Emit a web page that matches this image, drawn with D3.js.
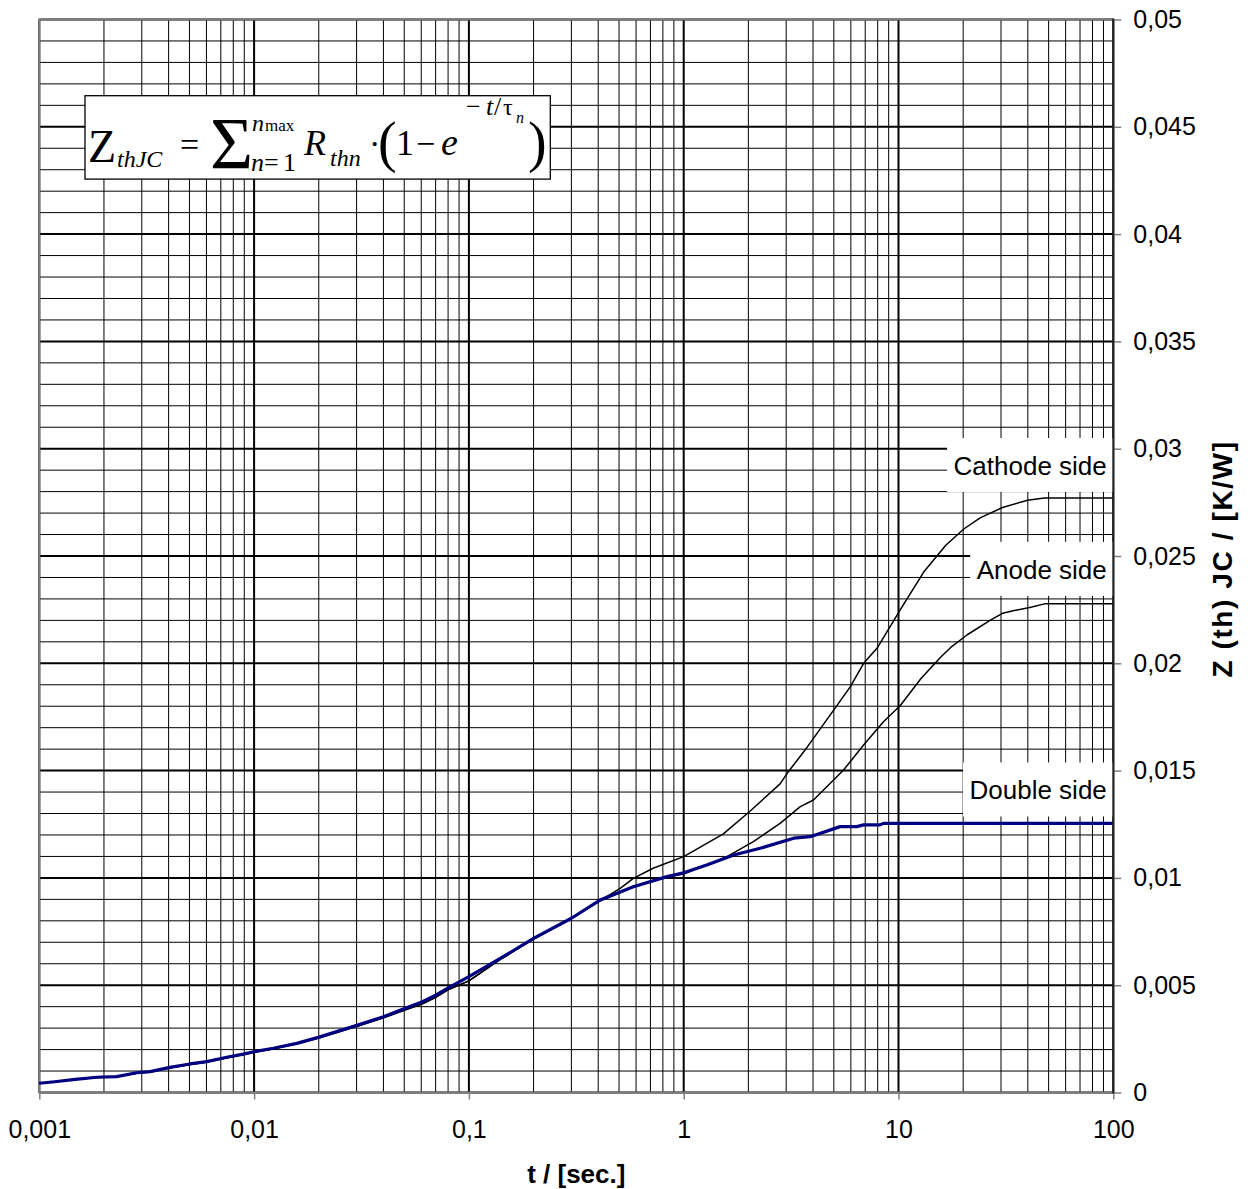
<!DOCTYPE html>
<html>
<head>
<meta charset="utf-8">
<script src="https://cdn.jsdelivr.net/npm/d3@7"></script>
<style>
  html, body { margin: 0; padding: 0; background: #fff; }
  svg { display: block; }
</style>
</head>
<body>
<svg id="chart" width="1248" height="1189"></svg>
<script>
// ---------------- DATA ----------------
const xTickVals = [0.001, 0.01, 0.1, 1, 10, 100];
const xTickLabels = ["0,001", "0,01", "0,1", "1", "10", "100"];
const yTickVals = [0, 0.005, 0.01, 0.015, 0.02, 0.025, 0.03, 0.035, 0.04, 0.045, 0.05];
const yTickLabels = ["0", "0,005", "0,01", "0,015", "0,02", "0,025", "0,03", "0,035", "0,04", "0,045", "0,05"];
const seriesNames = ["Cathode side", "Anode side", "Double side"];

const doubleT = [0.001, 0.00118, 0.00147, 0.00185, 0.00229, 0.00284, 0.00328, 0.00406, 0.00503, 0.00602, 0.00746, 0.00891, 0.01, 0.0123, 0.0158, 0.0199, 0.0306, 0.04, 0.0495, 0.0608, 0.07, 0.0798, 0.1, 0.14, 0.2, 0.3, 0.408, 0.506, 0.583, 0.836, 1, 1.28, 1.71, 2.27, 3.25, 3.88, 5.35, 6.4, 6.88, 8.2, 8.5, 100];
const doubleZ = [0.00043, 0.0005, 0.00061, 0.00071, 0.00074, 0.00092, 0.00097, 0.00117, 0.00133, 0.00144, 0.00164, 0.00179, 0.0019, 0.00206, 0.00229, 0.00257, 0.00315, 0.00353, 0.00389, 0.00423, 0.00454, 0.00486, 0.0054, 0.00625, 0.00718, 0.00812, 0.00897, 0.00934, 0.00959, 0.01006, 0.01024, 0.0106, 0.01107, 0.01138, 0.01185, 0.01192, 0.01239, 0.01239, 0.01247, 0.01247, 0.01254, 0.01254];

const cathodeT = [0.001, 0.00118, 0.00147, 0.00185, 0.00229, 0.00284, 0.00328, 0.00406, 0.00503, 0.00602, 0.00746, 0.00891, 0.01, 0.0123, 0.0158, 0.0199, 0.0306, 0.04, 0.0495, 0.0608, 0.07, 0.0798, 0.1, 0.14, 0.2, 0.3, 0.394, 0.506, 0.583, 0.72, 1, 1.53, 2.04, 2.81, 3.02, 3.75, 4.99, 5.96, 6.88, 7.94, 10.2, 13.1, 16.6, 20.2, 24.1, 30.5, 39.9, 47.8, 100];
const cathodeZ = [0.00043, 0.0005, 0.0006, 0.0007, 0.00073, 0.0009, 0.00096, 0.00115, 0.00131, 0.00142, 0.00162, 0.00177, 0.00188, 0.00204, 0.00227, 0.00254, 0.00311, 0.00348, 0.00382, 0.00413, 0.00443, 0.00478, 0.0052, 0.0062, 0.00715, 0.0081, 0.00885, 0.00951, 0.00998, 0.01045, 0.01099, 0.01205, 0.01312, 0.01438, 0.01485, 0.01608, 0.01782, 0.0189, 0.02, 0.0207, 0.0225, 0.02425, 0.0255, 0.02627, 0.02679, 0.02726, 0.0276, 0.0277, 0.0277];

const anodeT = [0.001, 0.00118, 0.00147, 0.00185, 0.00229, 0.00284, 0.00328, 0.00406, 0.00503, 0.00602, 0.00746, 0.00891, 0.01, 0.0123, 0.0158, 0.0199, 0.0306, 0.04, 0.0495, 0.0608, 0.07, 0.0798, 0.1, 0.14, 0.2, 0.3, 0.408, 0.506, 0.583, 0.836, 1, 1.59, 2.11, 2.81, 3.49, 4.02, 5.55, 6.88, 8.51, 10.2, 12.7, 15.7, 17.5, 20.9, 26.9, 30.5, 34.6, 41.3, 47.8, 100];
const anodeZ = [0.00043, 0.0005, 0.0006, 0.0007, 0.00073, 0.0009, 0.00096, 0.00115, 0.00131, 0.00142, 0.00162, 0.00177, 0.00188, 0.00204, 0.00227, 0.00254, 0.00311, 0.00348, 0.00382, 0.00413, 0.00443, 0.00478, 0.0052, 0.0062, 0.00715, 0.0081, 0.00893, 0.0093, 0.0096, 0.01004, 0.01018, 0.01099, 0.01169, 0.01254, 0.01332, 0.01363, 0.01503, 0.01619, 0.01728, 0.01803, 0.01928, 0.02028, 0.02074, 0.02133, 0.02202, 0.02233, 0.02246, 0.02261, 0.02277, 0.02277];

// label anchor values (vertical centre of each label box)
const labelZ = [0.02924, 0.0244, 0.01412];

// ---------------- DRAW ----------------
const svg = d3.select("#chart");
const X0 = 39.3, X1 = 1113.3, Y0 = 1092.5, Y1 = 19.5;
const x = d3.scaleLog().domain([0.001, 100]).range([X0, X1]);
const y = d3.scaleLinear().domain([0, 0.05]).range([Y0, Y1]);

const sans = "'Liberation Sans', Arial, sans-serif";
const serif = "'Liberation Serif', 'Times New Roman', serif";

svg.append("rect").attr("width", 1248).attr("height", 1189).attr("fill", "#fff");

const grid = svg.append("g");
// horizontal grid
const hVals = d3.range(0, 51).map(i => i / 1000);
grid.selectAll("line.h").data(hVals).join("line")
  .attr("x1", X0).attr("x2", X1)
  .attr("y1", d => y(d)).attr("y2", d => y(d))
  .attr("stroke", "#000")
  .attr("stroke-width", (d, i) => (i % 5 === 0 ? 2 : 1));
// vertical grid
const vVals = [];
[0.001, 0.01, 0.1, 1, 10].forEach(dec => { for (let k = 1; k <= 9; k++) vVals.push({ v: dec * k, major: k === 1 }); });
vVals.push({ v: 100, major: true });
grid.selectAll("line.v").data(vVals).join("line")
  .attr("x1", d => x(d.v)).attr("x2", d => x(d.v))
  .attr("y1", Y1).attr("y2", Y0)
  .attr("stroke", "#000")
  .attr("stroke-width", d => (d.major ? 2 : 1));

// border (gray top/left/bottom)
svg.append("path")
  .attr("d", `M${X1},${Y1}H${X0}V${Y0}H${X1}`)
  .attr("fill", "none").attr("stroke", "#7f7f7f").attr("stroke-width", 2);

// x axis
const xAxis = d3.axisBottom(x).tickValues(xTickVals)
  .tickFormat((d, i) => xTickLabels[i]).tickSize(7).tickPadding(21);
const gx = svg.append("g").attr("transform", `translate(0,${Y0})`).call(xAxis);
gx.select(".domain").remove();
gx.selectAll(".tick line").attr("stroke", "#7f7f7f").attr("stroke-width", 1.5);
gx.selectAll(".tick text").attr("font-family", sans).attr("font-size", 25).attr("fill", "#000");

// y axis (right)
const yAxis = d3.axisRight(y).tickValues(yTickVals)
  .tickFormat((d, i) => yTickLabels[i]).tickSize(8).tickPadding(12);
const gy = svg.append("g").attr("transform", `translate(${X1},0)`).call(yAxis);
gy.select(".domain").remove();
gy.selectAll(".tick line").attr("stroke", "#7f7f7f").attr("stroke-width", 1.5);
gy.selectAll(".tick text").attr("font-family", sans).attr("font-size", 25).attr("fill", "#000");

// axis titles
svg.append("text").attr("x", (X0 + X1) / 2).attr("y", 1183)
  .attr("text-anchor", "middle").attr("font-family", sans).attr("font-weight", "bold")
  .attr("font-size", 26).text("t / [sec.]");
svg.append("text").attr("transform", `translate(1232,${(Y0 + Y1) / 2 + 3}) rotate(-90)`)
  .attr("text-anchor", "middle").attr("font-family", sans).attr("font-weight", "bold")
  .attr("font-size", 28).attr("letter-spacing", 1.6).text("Z (th) JC / [K/W]");

// curves
const line = d3.line().x(d => x(d[0])).y(d => y(d[1]));
const zip = (a, b) => a.map((t, i) => [t, b[i]]);
const curves = svg.append("g").attr("fill", "none").attr("stroke-linejoin", "round");
curves.append("path").datum(zip(cathodeT, cathodeZ)).attr("d", line)
  .attr("stroke", "#000").attr("stroke-width", 1.5);
curves.append("path").datum(zip(anodeT, anodeZ)).attr("d", line)
  .attr("stroke", "#000").attr("stroke-width", 1.5);
curves.append("path").datum(zip(doubleT, doubleZ)).attr("d", line)
  .attr("stroke", "#000080").attr("stroke-width", 3.2);

// series labels with white boxes
const lg = svg.append("g");
seriesNames.forEach((name, i) => {
  const g = lg.append("g");
  const rect = g.append("rect").attr("fill", "#fff");
  const t = g.append("text").attr("font-family", sans).attr("font-size", 26)
    .attr("text-anchor", "middle").attr("dominant-baseline", "central").text(name);
  const w = t.node().getComputedTextLength();
  const bw = w + 13, bh = 54;
  const cy = y(labelZ[i]);
  rect.attr("x", X1 - bw).attr("y", cy - bh / 2).attr("width", bw).attr("height", bh);
  t.attr("x", X1 - bw / 2).attr("y", cy + 1);
});
// right axis line over boxes
svg.append("line").attr("x1", X1).attr("x2", X1).attr("y1", Y1 - 1).attr("y2", Y0 + 1)
  .attr("stroke", "#222").attr("stroke-width", 2);

// formula box
const fb = svg.append("g");
fb.append("rect").attr("x", 85).attr("y", 95.7).attr("width", 465.3).attr("height", 83.4)
  .attr("fill", "#fff").attr("stroke", "#000").attr("stroke-width", 1.3);
const parts = [
  { s: "Z", x: 88, y: 162, size: 46, it: false },
  { s: "thJC", x: 117, y: 167, size: 24, it: true },
  { s: "=", x: 180, y: 156, size: 34, it: false },
  { s: "\u03A3", x: 210, y: 169, size: 74, it: false },
  { s: "n", x: 252, y: 131, size: 24, it: true },
  { s: "max", x: 265, y: 131, size: 17, it: false },
  { s: "n", x: 251, y: 171, size: 26, it: true },
  { s: "=", x: 264, y: 171, size: 26, it: false },
  { s: "1", x: 283, y: 171, size: 26, it: false },
  { s: "R", x: 304, y: 155, size: 36, it: true },
  { s: "thn", x: 330, y: 166, size: 24, it: true },
  { s: "\u00B7", x: 369, y: 155, size: 34, it: false },
  { s: "(", x: 378, y: 161, size: 56, it: false },
  { s: "1", x: 396, y: 155, size: 36, it: false },
  { s: "\u2212", x: 416, y: 155, size: 34, it: false },
  { s: "e", x: 441, y: 155, size: 38, it: true },
  { s: "\u2212", x: 466, y: 115, size: 26, it: false },
  { s: "t", x: 486, y: 115, size: 26, it: true },
  { s: "/", x: 494, y: 115, size: 26, it: false },
  { s: "\u03C4", x: 503, y: 115, size: 24, it: false },
  { s: "n", x: 516, y: 123, size: 16, it: true },
  { s: ")", x: 528, y: 161, size: 56, it: false }
];
fb.selectAll("text").data(parts).join("text")
  .attr("x", d => d.x).attr("y", d => d.y)
  .attr("font-family", serif).attr("font-size", d => d.size)
  .attr("font-style", d => (d.it ? "italic" : "normal"))
  .text(d => d.s);
</script>
</body>
</html>
